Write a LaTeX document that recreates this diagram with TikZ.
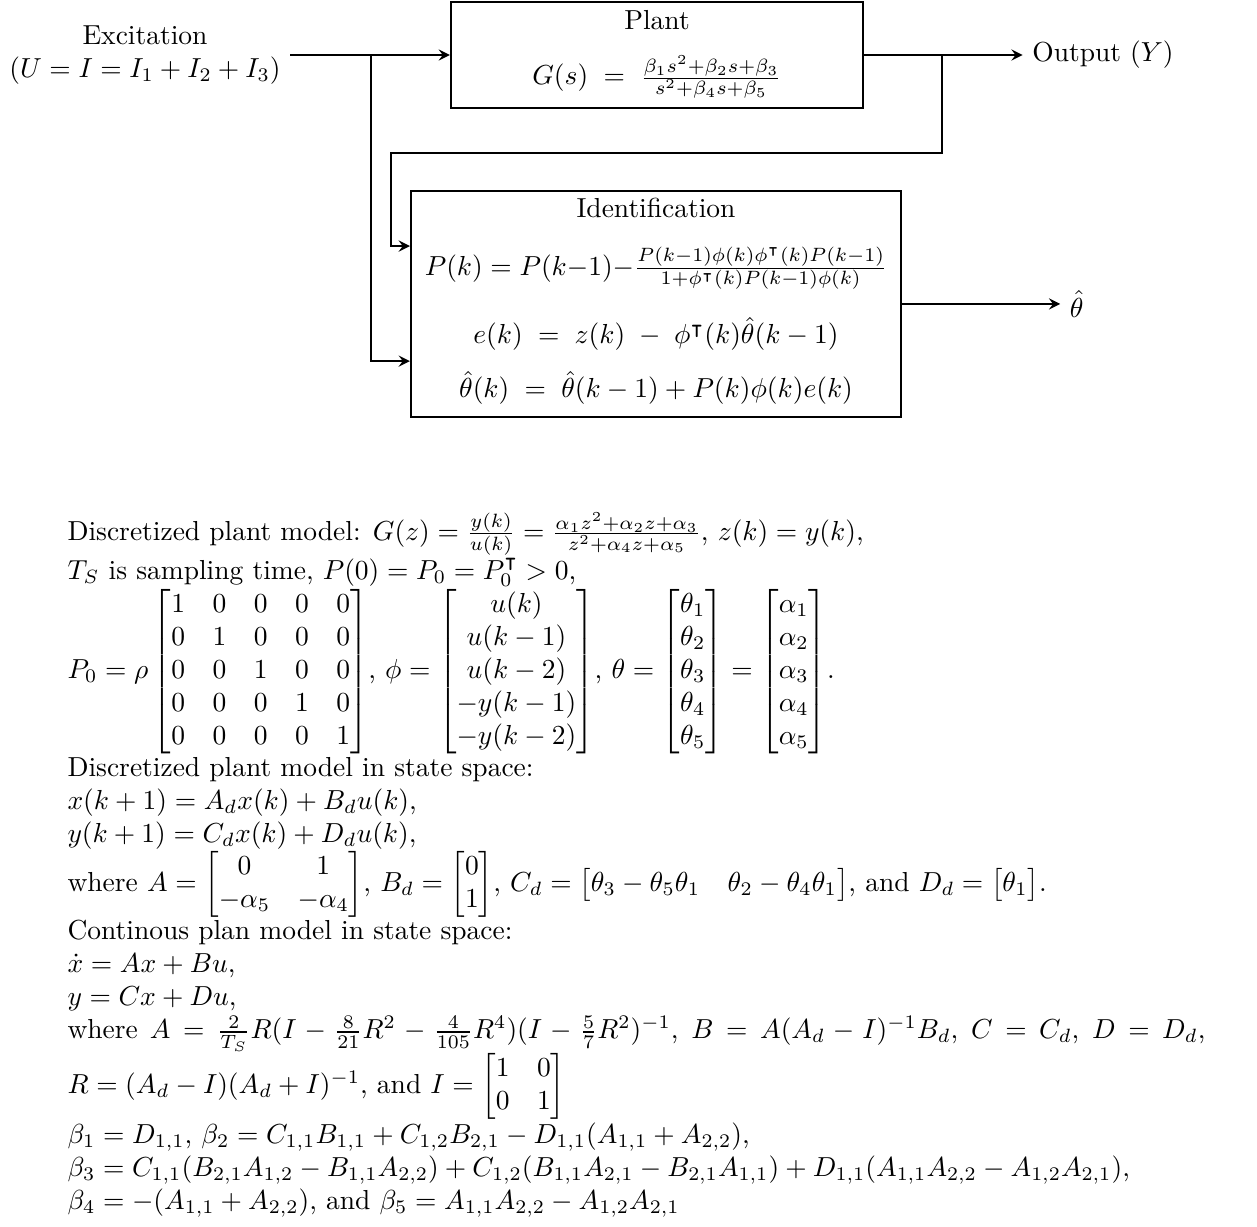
\documentclass[tikz,border=0pt]{standalone}
\usepackage{amsmath}
\usepackage{amssymb}
\usetikzlibrary{positioning}

\begin{document}
\begin{tikzpicture}[>=stealth,
                    sysblock/.style={draw, thick, rectangle},
                    sig/.style={thick}]
\useasboundingbox (0,0) rectangle (16.065,-15.681);
% plant block
\node[sysblock, minimum width=5.265cm, minimum height=1.355cm] (plant) at (8.397,-0.703) {};
\node[anchor=base] (plantname) at (8.397,-0.371) {Plant};
\node[anchor=base] (plantfn) at (8.397,-1.086) {$G(s) \;=\; \frac{\beta_1 s^2+\beta_2 s+\beta_3}{s^2+\beta_4 s+\beta_5}$};
% identification block
\node[sysblock, minimum width=6.262cm, minimum height=2.888cm] (ident) at (8.384,-3.885) {};
\node[anchor=base] (idname) at (8.384,-2.786) {Identification};
\node[anchor=base] (pupd) at (8.384,-3.515) {$P(k) = P(k{-}1){-}\frac{P(k-1)\phi(k)\phi^\intercal(k)P(k-1)}{1+\phi^\intercal(k)P(k-1)\phi(k)}$};
\node[anchor=base] (err) at (8.384,-4.396) {$e(k) \;=\; z(k) \;-\; \phi^\intercal(k)\hat{\theta}(k-1)$};
\node[anchor=base] (thupd) at (8.384,-5.086) {$\hat{\theta}(k) \;=\; \hat{\theta}(k-1) + P(k)\phi(k)e(k)$};
% inputs and outputs
\node[align=center] (exc) at (1.853,-0.703) {Excitation\\$(U = I = I_1 + I_2 + I_3)$};
\node[anchor=west] (out) at (13.07,-0.703) {Output $(Y)$};
\node[anchor=west] (thout) at (13.55,-3.885) {$\hat{\theta}$};
\coordinate (split) at (4.741,-0.703);
\coordinate (tap) at (12.039,-0.703);
\coordinate (fbturn) at (4.997,-1.955);
% connectors
\draw[sig,->] (exc.east) -- (plant.west);
\draw[sig,->] (plant.east) -- (out.west);
\draw[sig,->] (split) |- ([yshift=-0.73cm]ident.west);
\draw[sig,->] (tap) |- (fbturn) |- ([yshift=0.74cm]ident.west);
\draw[sig,->] (ident.east) -- (thout.west);
% notes
\node[anchor=north west, text width=413.8pt, align=justify, inner sep=0pt] (notes) at (0.856,-6.54) {\noindent
Discretized plant model: $G(z)=\frac{y(k)}{u(k)}=\frac{\alpha_1 z^2+\alpha_2 z+\alpha_3}{z^2+\alpha_4 z+\alpha_5}$, $z(k)=y(k)$,\\
$T_S$ is sampling time, $P(0)=P_0=P_0^\intercal>0$,\\
$P_0=\rho\begin{bmatrix}1&0&0&0&0\\0&1&0&0&0\\0&0&1&0&0\\0&0&0&1&0\\0&0&0&0&1\end{bmatrix}$,
$\phi=\begin{bmatrix}u(k)\\u(k-1)\\u(k-2)\\-y(k-1)\\-y(k-2)\end{bmatrix}$,
$\theta=\begin{bmatrix}\theta_1\\\theta_2\\\theta_3\\\theta_4\\\theta_5\end{bmatrix}=\begin{bmatrix}\alpha_1\\\alpha_2\\\alpha_3\\\alpha_4\\\alpha_5\end{bmatrix}$.\\
Discretized plant model in state space:\\
$x(k+1)=A_d x(k)+B_d u(k)$,\\
$y(k+1)=C_d x(k)+D_d u(k)$,\\
where $A=\begin{bmatrix}0&1\\-\alpha_5&-\alpha_4\end{bmatrix}$, $B_d=\begin{bmatrix}0\\1\end{bmatrix}$, $C_d=\begin{bmatrix}\theta_3-\theta_5\theta_1&\theta_2-\theta_4\theta_1\end{bmatrix}$, and $D_d=\begin{bmatrix}\theta_1\end{bmatrix}$.\\
Continous plan model in state space:\\
$\dot{x}=Ax+Bu$,\\
$y=Cx+Du$,\\
where $A=\frac{2}{T_S}R(I-\frac{8}{21}R^2-\frac{4}{105}R^4)(I-\frac{5}{7}R^2)^{-1}$, $B=A(A_d-I)^{-1}B_d$, $C=C_d$, $D=D_d$,\linebreak
$R=(A_d-I)(A_d+I)^{-1}$, and $I=\begin{bmatrix}1&0\\0&1\end{bmatrix}$\\
$\beta_1=D_{1,1}$, $\beta_2=C_{1,1}B_{1,1}+C_{1,2}B_{2,1}-D_{1,1}(A_{1,1}+A_{2,2})$,\\
$\beta_3=C_{1,1}(B_{2,1}A_{1,2}-B_{1,1}A_{2,2})+C_{1,2}(B_{1,1}A_{2,1}-B_{2,1}A_{1,1})+D_{1,1}(A_{1,1}A_{2,2}-A_{1,2}A_{2,1})$,\\
$\beta_4=-(A_{1,1}+A_{2,2})$, and $\beta_5=A_{1,1}A_{2,2}-A_{1,2}A_{2,1}$};
\end{tikzpicture}
\end{document}
